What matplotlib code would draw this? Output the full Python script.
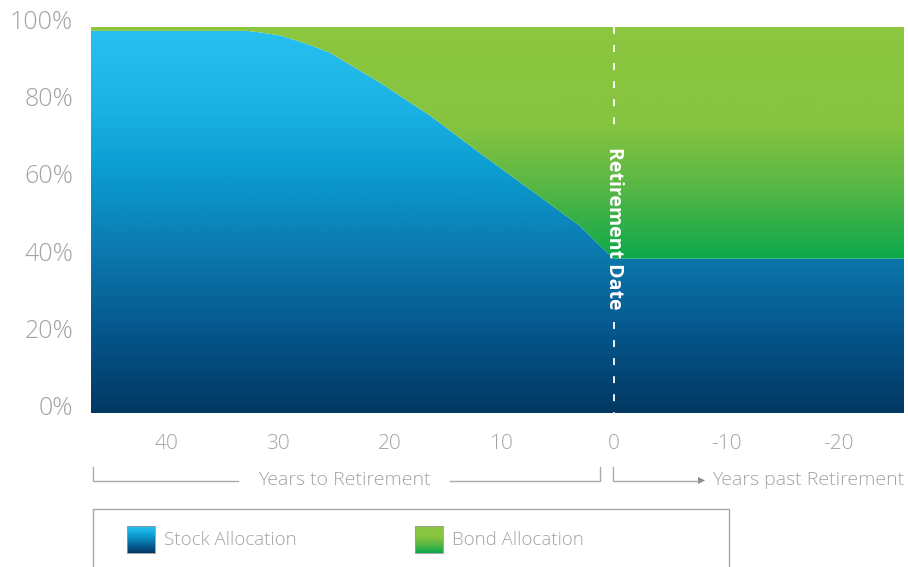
import numpy as np
import matplotlib
matplotlib.use("Agg")
import matplotlib.pyplot as plt
from matplotlib.colors import LinearSegmentedColormap
from matplotlib.patches import Polygon, Rectangle
from matplotlib.lines import Line2D
import matplotlib.transforms as mtransforms

plt.rcParams['font.family'] = ['Open Sans', 'DejaVu Sans']
plt.rcParams['lines.scale_dashes'] = False

# ---------------- data ----------------
years = [46.7, 32.8, 31.6, 29.8, 27.6, 25.4, 20.9, 16.4, 12.0, 7.5, 3.0, 1.8, 0.6, 0.0, -25.9]
stock_pct = [99, 99, 98.6, 97.8, 95.8, 93.4, 85.6, 77.0, 67.4, 57.9, 48.4, 44.9, 41.5, 40.0, 40.0]
x_ticks = [40, 30, 20, 10, 0, -10, -20]
x_tick_labels = ["40", "30", "20", "10", "0", "-10", "-20"]
y_ticks = [0, 20, 40, 60, 80, 100]
y_tick_labels = ["0%", "20%", "40%", "60%", "80%", "100%"]
retirement_year = 0
series_names = ["Stock Allocation", "Bond Allocation"]

# ---------------- style ----------------
W, H, DPI = 908, 567, 100
GRAY = "#a3a3a3"
LINEGRAY = "#a9a9a9"

stock_cmap = LinearSegmentedColormap.from_list("stock", [
    (0.00, "#023862"), (0.20, "#05558a"), (0.40, "#0b76ab"),
    (0.62, "#0b9bd0"), (0.80, "#1bb3e5"), (1.00, "#27c1f1")])
bond_cmap = LinearSegmentedColormap.from_list("bond", [
    (0.00, "#0aa84a"), (0.40, "#0aa84a"), (0.50, "#35b048"),
    (0.60, "#5db844"), (0.75, "#86c43f"), (1.00, "#8dc63f")])

fig = plt.figure(figsize=(W / DPI, H / DPI), dpi=DPI)
fig.patch.set_facecolor("white")

def fx(px):
    return px / W

def fy(py):
    return 1 - py / H

ax = fig.add_axes([fx(91), fy(413), fx(904) - fx(91), fy(27) - fy(413)])
xl, xr = years[0], years[-1]

grad = np.linspace(0, 1, 512).reshape(-1, 1)
xs = np.array(years)
ys = np.array(stock_pct)

# stock area
stock_poly = Polygon(np.vstack([np.column_stack([xs, ys]), [[xr, 0], [xl, 0]]]),
                     closed=True, transform=ax.transData, facecolor="none", edgecolor="none")
ax.add_patch(stock_poly)
im1 = ax.imshow(grad, extent=[xl, xr, 0, 100], origin="lower", cmap=stock_cmap,
                aspect="auto", zorder=1, interpolation="bilinear")
im1.set_clip_path(stock_poly)

# bond area
bond_poly = Polygon(np.vstack([np.column_stack([xs, ys]), [[xr, 100], [xl, 100]]]),
                    closed=True, transform=ax.transData, facecolor="none", edgecolor="none")
ax.add_patch(bond_poly)
im2 = ax.imshow(grad, extent=[xl, xr, 0, 100], origin="lower", cmap=bond_cmap,
                aspect="auto", zorder=1, interpolation="bilinear")
im2.set_clip_path(bond_poly)

ax.set_xlim(xl, xr)
ax.set_ylim(0, 100)

# retirement line (dashed, interrupted by label)
ax.plot([retirement_year, retirement_year], [100, 72.5], color="white", lw=1.3,
        dashes=(5, 8), zorder=3)
ax.plot([retirement_year, retirement_year], [23.5, 0], color="white", lw=1.3,
        dashes=(5, 8), zorder=3)
ax.text(retirement_year, 47.9, "Retirement Date", rotation=270, color="white",
        fontsize=14, fontweight="bold", ha="center", va="center", zorder=4)

# axes styling
for s in ax.spines.values():
    s.set_visible(False)
ax.set_xticks(x_ticks)
ax.set_xticklabels(x_tick_labels)
ax.set_yticks(y_ticks)
ax.set_yticklabels(y_tick_labels)
ax.tick_params(axis="both", length=0, colors=GRAY)
ax.tick_params(axis="x", labelsize=15, pad=15)
ax.tick_params(axis="y", labelsize=18, pad=13)
off = mtransforms.ScaledTranslation(0, -2 / DPI, fig.dpi_scale_trans)
for lbl in ax.get_yticklabels():
    lbl.set_verticalalignment("baseline")
    lbl.set_transform(lbl.get_transform() + off)
for lbl in ax.get_xticklabels() + ax.get_yticklabels():
    lbl.set_fontweight("light")

# ---------------- bracket annotations ----------------
def fline(xpx, ypx, **kw):
    fig.add_artist(Line2D([fx(v) for v in xpx], [fy(v) for v in ypx],
                          transform=fig.transFigure, color=LINEGRAY, lw=1.0, **kw))

fline([93, 93, 238], [467, 480.5, 480.5])
fline([450, 600, 600], [480.5, 480.5, 467])
fline([613, 613, 699], [467, 480.5, 480.5])
fig.add_artist(Polygon([[fx(698), fy(477)], [fx(705), fy(480.5)], [fx(698), fy(484)]],
                       closed=True, transform=fig.transFigure, facecolor="#888888",
                       edgecolor="none"))
fig.text(fx(344), fy(480), "Years to Retirement", color=GRAY, fontsize=14,
         ha="center", va="center", fontweight="light")
fig.text(fx(712), fy(480), "Years past Retirement", color=GRAY, fontsize=14,
         ha="left", va="center", fontweight="light")

# ---------------- legend ----------------
fig.add_artist(Rectangle((fx(93), fy(580)), fx(729) - fx(93), fy(509) - fy(580),
                         transform=fig.transFigure, facecolor="none",
                         edgecolor="#a8a8a8", lw=1.0))

def legend_patch(xpx, cmap, lo, hi, label):
    pax = fig.add_axes([fx(xpx), fy(553), fx(28), fy(526) - fy(553)])
    g = np.linspace(lo, hi, 64).reshape(-1, 1)
    pax.imshow(g, origin="lower", cmap=cmap, vmin=0, vmax=1, aspect="auto",
               interpolation="bilinear")
    pax.set_xticks([])
    pax.set_yticks([])
    for s in pax.spines.values():
        s.set_color("#9a9a9a")
        s.set_linewidth(0.6)
    fig.text(fx(xpx + 37), fy(540), label, color=GRAY, fontsize=13.5,
             ha="left", va="center", fontweight="light")

legend_patch(127, stock_cmap, 0.0, 1.0, series_names[0])
legend_patch(415, bond_cmap, 0.4, 1.0, series_names[1])

fig.savefig("out.png", dpi=DPI)
